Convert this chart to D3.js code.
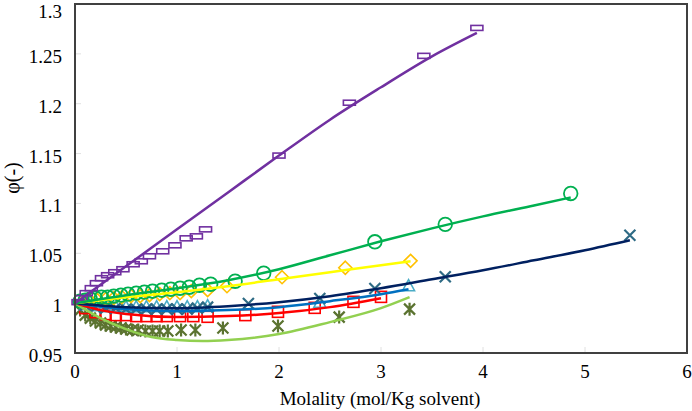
<!DOCTYPE html>
<html><head><meta charset="utf-8">
<script src="https://cdn.jsdelivr.net/npm/d3@7"></script>
<style>body{margin:0;background:#fff}svg{display:block}</style>
</head><body><svg id="c" width="692" height="411"></svg>
<script>
const xTicks=[0,1,2,3,4,5,6];
const yTicks=[0.95,1,1.05,1.1,1.15,1.2,1.25,1.3];
const yTickLabels=["0.95","1","1.05","1.1","1.15","1.2","1.25","1.3"];
const xTitle="Molality (mol/Kg solvent)";
const yTitle="φ(-)";

// measured points [molality, phi]
const purplePts=[[0.03,1.001],[0.06,1.005],[0.11,1.010],[0.16,1.015],[0.21,1.020],[0.26,1.025],[0.32,1.028],[0.39,1.031],[0.47,1.034],[0.57,1.039],[0.65,1.042],[0.73,1.047],[0.86,1.052],[0.98,1.058],[1.09,1.065],[1.19,1.067],[1.28,1.074],[2.0,1.148],[2.69,1.201],[3.42,1.248],[3.94,1.276]];
const greenPts=[[0.05,1.002],[0.1,1.003],[0.15,1.004],[0.2,1.005],[0.26,1.006],[0.32,1.006],[0.38,1.007],[0.45,1.008],[0.52,1.009],[0.6,1.010],[0.68,1.011],[0.76,1.012],[0.85,1.013],[0.94,1.014],[1.03,1.015],[1.12,1.016],[1.22,1.018],[1.33,1.019],[1.57,1.022],[1.85,1.030],[2.94,1.0615],[3.63,1.079],[4.86,1.110]];
const yellowPts=[[0.08,1.001],[0.15,1.002],[0.22,1.003],[0.3,1.004],[0.38,1.005],[0.46,1.006],[0.55,1.007],[0.64,1.007],[0.73,1.008],[0.83,1.009],[0.93,1.010],[1.03,1.010],[1.14,1.012],[1.30,1.013],[1.49,1.017],[2.03,1.026],[2.65,1.0355],[3.29,1.0424]];
const tealXPts=[[0.1,0.998],[0.2,0.996],[0.3,0.995],[0.4,0.995],[0.5,0.994],[0.6,0.994],[0.7,0.994],[0.8,0.994],[0.9,0.994],[1.0,0.994],[1.1,0.994],[1.2,0.995],[1.30,0.996],[1.70,0.9997],[2.40,1.0047],[2.94,1.0147],[3.63,1.0264],[5.44,1.068]];
const trianglePts=[[0.1,0.998],[0.2,0.997],[0.3,0.996],[0.4,0.996],[0.5,0.996],[0.6,0.996],[0.7,0.996],[0.8,0.996],[0.9,0.996],[1.0,0.996],[1.1,0.996],[1.2,0.996],[1.3,0.997],[2.40,1.0003],[3.27,1.017]];
const squarePts=[[0.1,0.995],[0.2,0.991],[0.3,0.989],[0.4,0.988],[0.5,0.988],[0.6,0.987],[0.7,0.987],[0.8,0.987],[0.9,0.987],[1.03,0.987],[1.16,0.987],[1.30,0.9863],[1.67,0.988],[1.99,0.9913],[2.35,0.9953],[2.73,1.0013],[3.0,1.0063]];
const asteriskPts=[[0.05,0.993],[0.1,0.988],[0.15,0.985],[0.2,0.982],[0.25,0.980],[0.3,0.978],[0.35,0.977],[0.4,0.976],[0.45,0.975],[0.5,0.974],[0.56,0.973],[0.62,0.973],[0.69,0.972],[0.76,0.972],[0.83,0.972],[0.91,0.972],[1.04,0.973],[1.18,0.973],[1.45,0.975],[1.99,0.977],[2.59,0.986],[3.28,0.994]];

// fitted curves
const purpleFit=[[0,1.0],[0.5,1.037],[1,1.074],[1.5,1.111],[2,1.148],[2.5,1.184],[3,1.2165],[3.5,1.2475],[3.94,1.271]];
const greenFit=[[0,1.0],[0.5,1.008],[1,1.015],[1.5,1.023],[2,1.034],[2.5,1.048],[3,1.062],[3.5,1.075],[4,1.087],[4.5,1.098],[4.86,1.106]];
const yellowFit=[[0,1.0],[0.5,1.006],[1,1.011],[1.5,1.017],[2,1.024],[2.5,1.031],[3,1.038],[3.29,1.042]];
const navyFit=[[0,1.0],[0.5,0.996],[1,0.995],[1.5,0.997],[2,1.001],[2.5,1.007],[3,1.015],[3.5,1.024],[4,1.033],[4.5,1.043],[5,1.053],[5.44,1.063]];
const blueFit=[[0,1.0],[0.5,0.994],[1,0.992],[1.5,0.993],[2,0.996],[2.5,1.002],[3,1.009],[3.27,1.014]];
const redFit=[[0,1.0],[0.25,0.993],[0.5,0.989],[1,0.986],[1.5,0.987],[2,0.990],[2.5,0.996],[3,1.005]];
const lightGreenFit=[[0,1.0],[0.25,0.985],[0.5,0.974],[0.75,0.966],[1,0.963],[1.25,0.962],[1.5,0.963],[2,0.969],[2.5,0.981],[3,0.995],[3.28,1.006]];

const svg=d3.select("#c").attr("font-family","Liberation Serif");
const L=75,R=687,T=4,B=353;
const x=d3.scaleLinear().domain([0,6]).range([L,R]);
const y=d3.scaleLinear().domain([0.95,1.3]).range([B,T]);
const FS=19;

// faint inner ticks
svg.append("g").selectAll("line").data(yTicks.slice(1,-1)).join("line")
  .attr("x1",L).attr("x2",L+6).attr("y1",d=>y(d)).attr("y2",d=>y(d)).attr("stroke","#e0e0e0");
svg.append("g").selectAll("line").data(xTicks.slice(1,-1)).join("line")
  .attr("x1",d=>x(d)).attr("x2",d=>x(d)).attr("y1",B).attr("y2",B-6).attr("stroke","#e0e0e0");

// tick labels
svg.append("g").selectAll("text").data(xTicks).join("text")
  .attr("x",d=>x(d)).attr("y",B+25).attr("text-anchor","middle")
  .attr("font-family","Liberation Serif").attr("font-size",FS).attr("fill","#000").text(d=>String(d));
svg.append("g").selectAll("text").data(yTicks).join("text")
  .attr("x",L-13).attr("y",d=>Math.max(y(d)+9,18)).attr("text-anchor","end")
  .attr("font-family","Liberation Serif").attr("font-size",FS).attr("fill","#000").text((d,i)=>yTickLabels[i]);

svg.append("text").attr("x",(L+R)/2-1).attr("y",405).attr("text-anchor","middle").attr("font-family","Liberation Serif").attr("font-size",FS).text(xTitle);
svg.append("text").attr("transform","translate(19,178) rotate(-90)").attr("text-anchor","middle").attr("font-family","Liberation Serif").attr("font-size",20).text(yTitle);

const g=svg.append("g");
function markers(data,type,color){
  const s=g.append("g").attr("fill","none").attr("stroke",color);
  data.forEach(d=>{
    const cx=x(d[0]),cy=y(d[1]);
    if(type==="dash"){s.append("rect").attr("x",cx-6).attr("y",cy-2.5).attr("width",12).attr("height",5).attr("stroke-width",1.6);}
    else if(type==="circle"){s.append("circle").attr("cx",cx).attr("cy",cy).attr("r",6.8).attr("stroke-width",1.8);}
    else if(type==="diamond"){s.append("path").attr("d",`M${cx},${cy-6.5}L${cx+6.5},${cy}L${cx},${cy+6.5}L${cx-6.5},${cy}Z`).attr("stroke-width",1.6);}
    else if(type==="x"){s.append("path").attr("d",`M${cx-5.5},${cy-5.5}L${cx+5.5},${cy+5.5}M${cx-5.5},${cy+5.5}L${cx+5.5},${cy-5.5}`).attr("stroke-width",2.2);}
    else if(type==="tri"){s.append("path").attr("d",`M${cx},${cy-6.5}L${cx+6},${cy+4.5}L${cx-6},${cy+4.5}Z`).attr("stroke-width",1.6);}
    else if(type==="square"){s.append("rect").attr("x",cx-5.5).attr("y",cy-5.5).attr("width",11).attr("height",11).attr("stroke-width",1.6);}
    else if(type==="star"){s.append("path").attr("d",`M${cx-5.5},${cy-5.5}L${cx+5.5},${cy+5.5}M${cx-5.5},${cy+5.5}L${cx+5.5},${cy-5.5}M${cx},${cy-6.5}L${cx},${cy+6.5}`).attr("stroke-width",2.2);}
  });
}
const line=d3.line().x(d=>x(d[0])).y(d=>y(d[1])).curve(d3.curveMonotoneX);
function fit(data,color){g.append("path").datum(data).attr("d",line).attr("fill","none").attr("stroke",color).attr("stroke-width",2.5);}

markers(asteriskPts,"star","#5B7330");
markers(squarePts,"square","#FF0000");
markers(trianglePts,"tri","#4BACC6");
markers(tealXPts,"x","#2E6B85");
markers(yellowPts,"diamond","#FFC000");
markers(greenPts,"circle","#00B050");
markers(purplePts,"dash","#7030A0");

fit(lightGreenFit,"#92D050");
fit(redFit,"#FF0000");
fit(blueFit,"#0070C0");
fit(navyFit,"#002060");
fit(yellowFit,"#FFFF00");
fit(greenFit,"#00B050");
fit(purpleFit,"#7030A0");

svg.append("rect").attr("x",L).attr("y",T).attr("width",R-L).attr("height",B-T).attr("fill","none").attr("stroke","#404040").attr("stroke-width",2);
</script></body></html>
